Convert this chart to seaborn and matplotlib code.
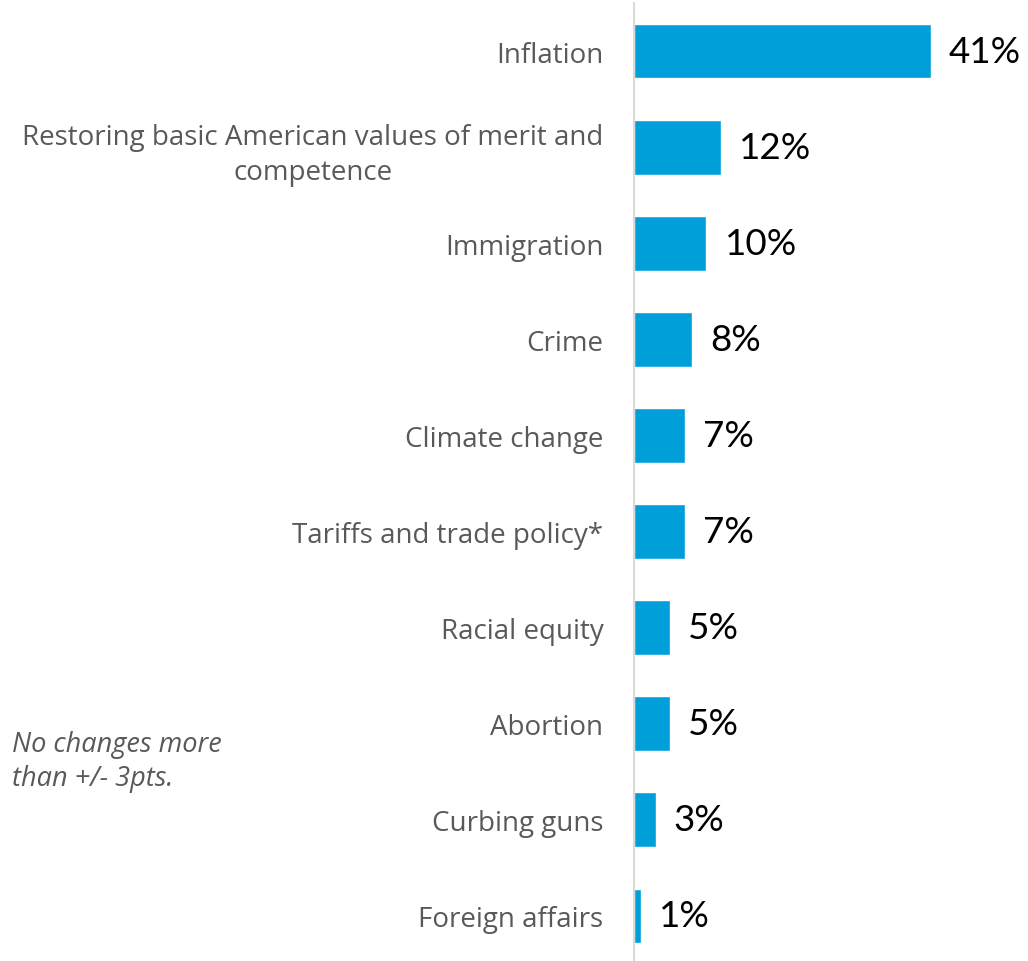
import matplotlib
matplotlib.use("Agg")
import matplotlib.pyplot as plt
import seaborn as sns
import pandas as pd

categories = [
    "Inflation",
    "Restoring basic American values of merit and\ncompetence",
    "Immigration",
    "Crime",
    "Climate change",
    "Tariffs and trade policy*",
    "Racial equity",
    "Abortion",
    "Curbing guns",
    "Foreign affairs",
]
values = [41, 12, 10, 8, 7, 7, 5, 5, 3, 1]
value_labels = ["41%", "12%", "10%", "8%", "7%", "7%", "5%", "5%", "3%", "1%"]
note = "No changes more\nthan +/- 3pts."

sns.set_theme(style="white")
plt.rcParams["font.family"] = ["Lato", "DejaVu Sans"]

df = pd.DataFrame({"category": categories, "value": values})

fig = plt.figure(figsize=(10.28, 9.62), dpi=100)
W, H = 1028, 962
ax = fig.add_axes([634 / W, -3 / H, (W - 634) / W, 961 / H])

sns.barplot(data=df, y="category", x="value", orient="h", color="#009FDA",
            width=0.57, saturation=1, ax=ax)

ax.set_xlim(0, 54.4)
ax.set_ylim(9.5, -0.5)
ax.set_xlabel("")
ax.set_ylabel("")
ax.set_xticks([])
for s in ["top", "right", "bottom"]:
    ax.spines[s].set_visible(False)
ax.spines["left"].set_color("#D9D9D9")
ax.spines["left"].set_linewidth(1.5)
ax.tick_params(axis="y", length=0, pad=22, labelsize=20, labelcolor="#595959")
for lbl in ax.get_yticklabels():
    lbl.set_multialignment("center")
    lbl.set_fontfamily(["Open Sans", "DejaVu Sans"])
    lbl.set_fontsize(20)
    lbl.set_linespacing(1.35)

for cont in ax.containers:
    ax.bar_label(cont, labels=value_labels, padding=13, fontsize=26.5, color="black")

fig.text(12 / W, 1 - 762 / H, note, fontsize=19.5, style="italic", color="#595959",
         ha="left", va="center", linespacing=1.3, family=["Open Sans", "DejaVu Sans"])

fig.savefig("out.png", dpi=100)
